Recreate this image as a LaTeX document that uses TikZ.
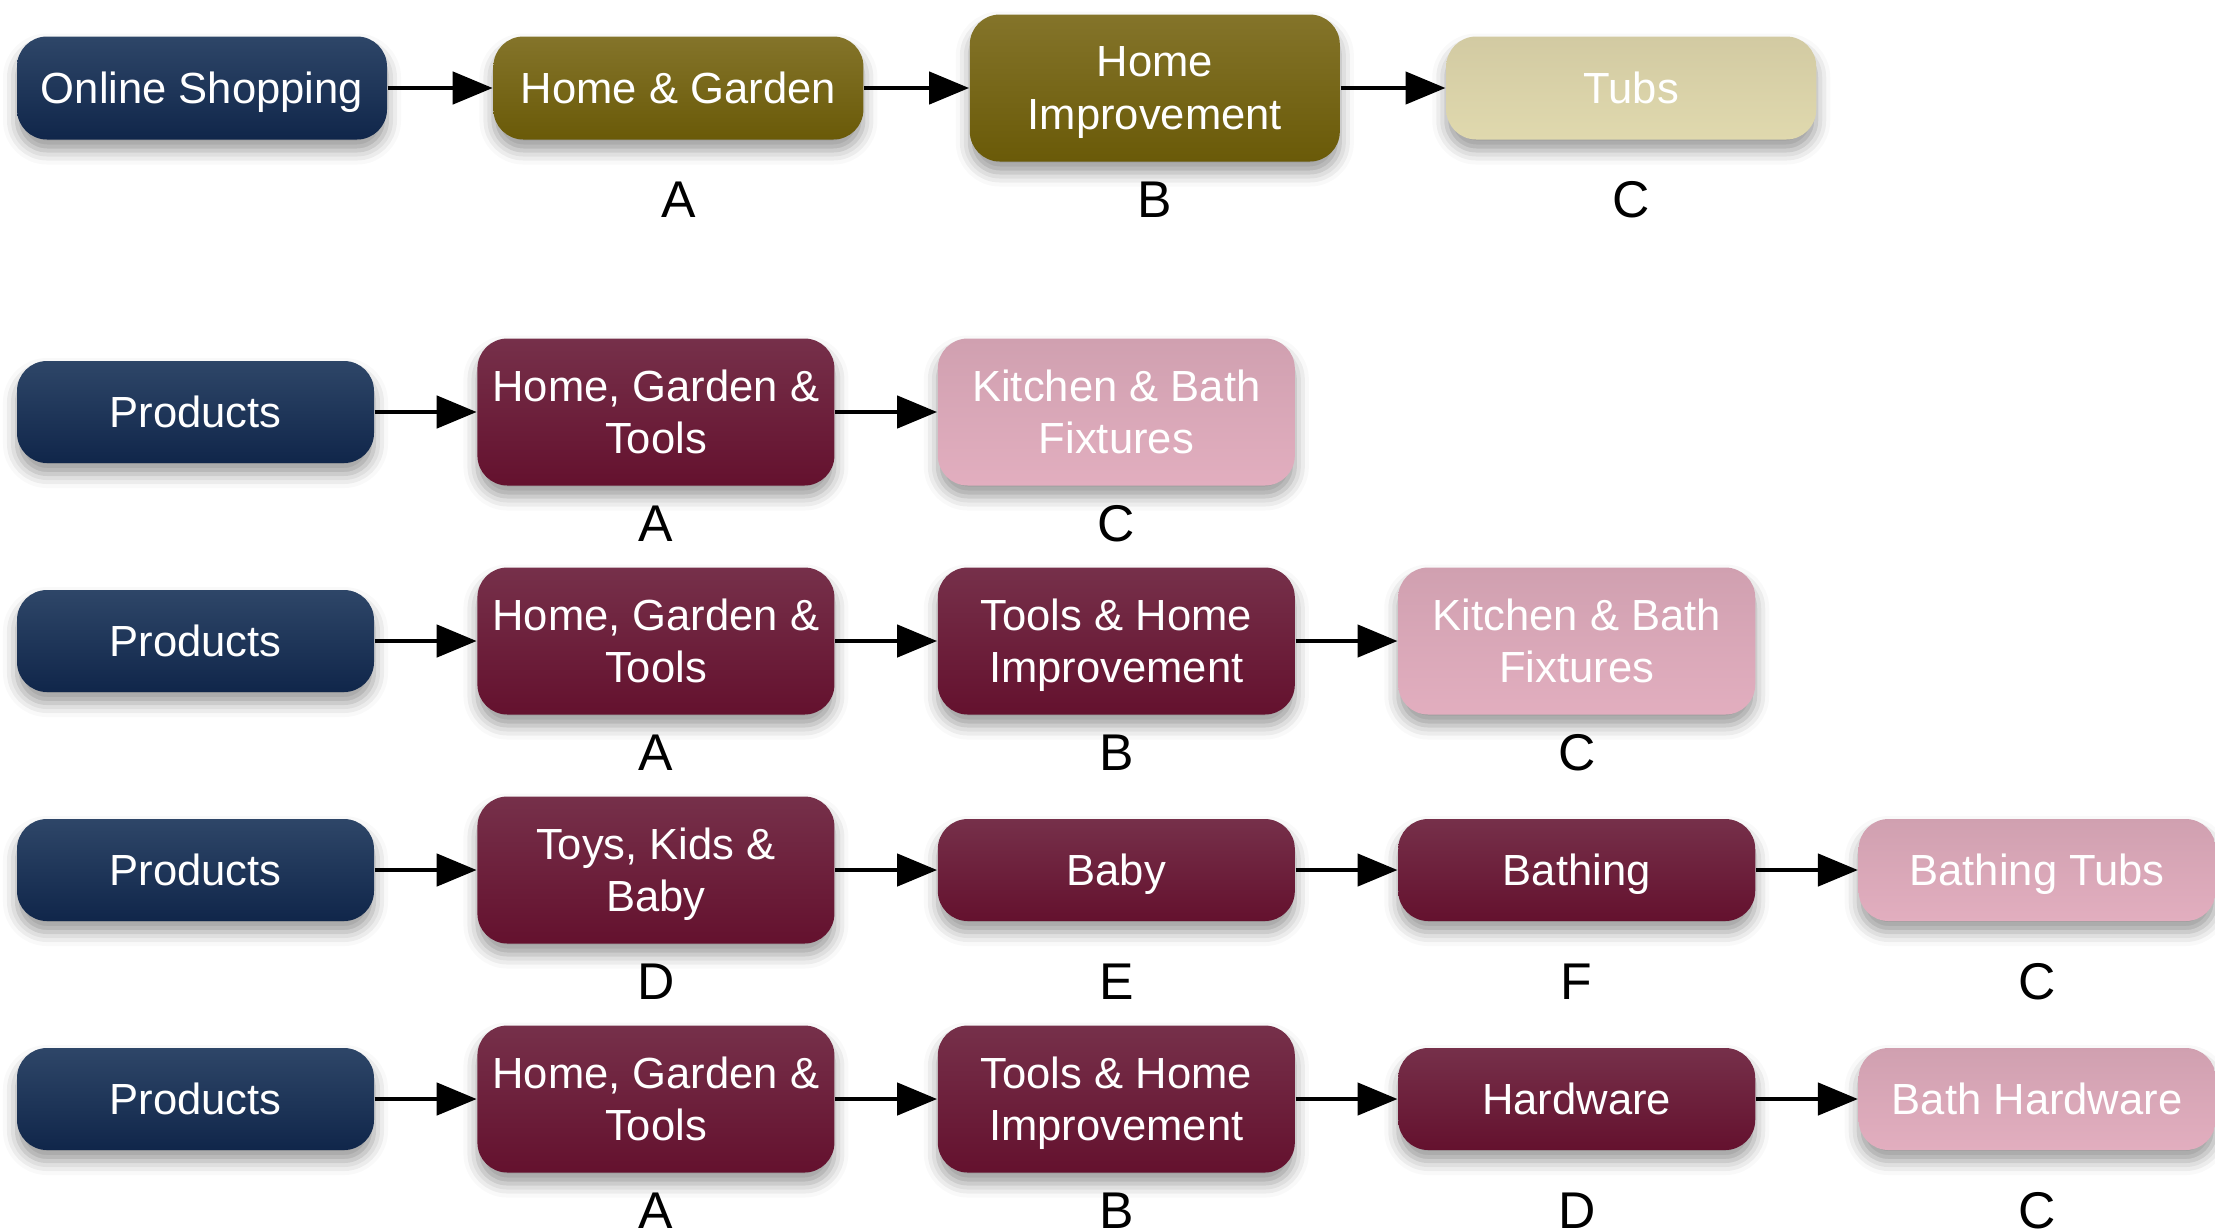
\documentclass[tikz,border=0pt]{standalone}
\usepackage{fontspec}
\setmainfont{Liberation Sans}
\usetikzlibrary{positioning,arrows.meta,shadows.blur}
\definecolor{navytop}{HTML}{2E4668}
\definecolor{navybot}{HTML}{10264A}
\definecolor{olivetop}{HTML}{84742A}
\definecolor{olivebot}{HTML}{6A5A08}
\definecolor{khakitop}{HTML}{D2CAA2}
\definecolor{khakibot}{HTML}{E0D9AE}
\definecolor{maroontop}{HTML}{76304A}
\definecolor{maroonbot}{HTML}{64112E}
\definecolor{pinktop}{HTML}{D0A0B0}
\definecolor{pinkbot}{HTML}{E2AEBF}
\tikzset{link/.style={-{Triangle[length=4mm,width=3.2mm]},line width=1.3pt}}

\begin{document}
\begin{tikzpicture}
		[
		block/.style={
		rectangle,
		rounded corners=3mm,
		minimum width=35.7mm,
		minimum height=10.2mm,
		inner sep=0pt,
		text depth=0pt,
		align=center,
		text=white,
		font=\fontsize{12.4}{14.8}\selectfont,
		blur shadow={shadow xshift=0mm,shadow yshift=-1.1mm,shadow blur radius=1.4mm,shadow opacity=40}},
		wide/.style={minimum width=37mm,minimum height=10.3mm},
		tall/.style={minimum height=14.7mm},
		root/.style={block,top color=navytop,bottom color=navybot},
		olive/.style={block,top color=olivetop,bottom color=olivebot},
		khaki/.style={block,top color=khakitop,bottom color=khakibot},
		maroon/.style={block,top color=maroontop,bottom color=maroonbot},
		leaf/.style={block,top color=pinktop,bottom color=pinkbot},
		tag/.style={font=\fontsize{14.7}{17}\selectfont}
		]
		\useasboundingbox (0,0) rectangle (22.15,-12.29);

		% online shopping
		\node[root,wide] at (2.02,-0.88) (online_shopping) {Online Shopping};
		\node[olive,wide,right=10.5mm of online_shopping] (home_garden) {Home \& Garden};
		\node[olive,wide,tall,right=10.5mm of home_garden] (home_improvement) {Home\\Improvement};
		\node[khaki,wide,right=10.5mm of home_improvement] (tubs) {Tubs};
		\node[tag] at ([yshift=-11.2mm]home_garden) (tag_home_garden) {A};
		\node[tag] at ([yshift=-11.2mm]home_improvement) (tag_home_improvement) {B};
		\node[tag] at ([yshift=-11.2mm]tubs) (tag_tubs) {C};
		\draw[link] (online_shopping) -- (home_garden);
		\draw[link] (home_garden) -- (home_improvement);
		\draw[link] (home_improvement) -- (tubs);

		% products 1
		\node[root] at (1.955,-4.12) (products_a) {Products};
		\node[maroon,tall,right=10.2mm of products_a] (hgt_a) {Home, Garden \&\\Tools};
		\node[leaf,tall,right=10.2mm of hgt_a] (kbf_a) {Kitchen \& Bath\\Fixtures};
		\node[tag] at ([yshift=-11.2mm]hgt_a) (tag_hgt_a) {A};
		\node[tag] at ([yshift=-11.2mm]kbf_a) (tag_kbf_a) {C};
		\draw[link] (products_a) -- (hgt_a);
		\draw[link] (hgt_a) -- (kbf_a);

		% products 2
		\node[root] at (1.955,-6.41) (products_b) {Products};
		\node[maroon,tall,right=10.2mm of products_b] (hgt_b) {Home, Garden \&\\Tools};
		\node[maroon,tall,right=10.2mm of hgt_b] (thi_b) {Tools \& Home\\Improvement};
		\node[leaf,tall,right=10.2mm of thi_b] (kbf_b) {Kitchen \& Bath\\Fixtures};
		\node[tag] at ([yshift=-11.2mm]hgt_b) (tag_hgt_b) {A};
		\node[tag] at ([yshift=-11.2mm]thi_b) (tag_thi_b) {B};
		\node[tag] at ([yshift=-11.2mm]kbf_b) (tag_kbf_b) {C};
		\draw[link] (products_b) -- (hgt_b);
		\draw[link] (hgt_b) -- (thi_b);
		\draw[link] (thi_b) -- (kbf_b);

		% products 3
		\node[root] at (1.955,-8.70) (products_c) {Products};
		\node[maroon,tall,right=10.2mm of products_c] (tkb_c) {Toys, Kids \&\\Baby};
		\node[maroon,right=10.2mm of tkb_c] (baby_c) {Baby};
		\node[maroon,right=10.2mm of baby_c] (bathing_c) {Bathing};
		\node[leaf,right=10.2mm of bathing_c] (bathing_tubs_c) {Bathing Tubs};
		\node[tag] at ([yshift=-11.2mm]tkb_c) (tag_tkb_c) {D};
		\node[tag] at ([yshift=-11.2mm]baby_c) (tag_baby_c) {E};
		\node[tag] at ([yshift=-11.2mm]bathing_c) (tag_bathing_c) {F};
		\node[tag] at ([yshift=-11.2mm]bathing_tubs_c) (tag_bathing_tubs_c) {C};
		\draw[link] (products_c) -- (tkb_c);
		\draw[link] (tkb_c) -- (baby_c);
		\draw[link] (baby_c) -- (bathing_c);
		\draw[link] (bathing_c) -- (bathing_tubs_c);

		% products 4
		\node[root] at (1.955,-10.99) (products_d) {Products};
		\node[maroon,tall,right=10.2mm of products_d] (hgt_d) {Home, Garden \&\\Tools};
		\node[maroon,tall,right=10.2mm of hgt_d] (thi_d) {Tools \& Home\\Improvement};
		\node[maroon,right=10.2mm of thi_d] (hardware_d) {Hardware};
		\node[leaf,right=10.2mm of hardware_d] (bath_hardware_d) {Bath Hardware};
		\node[tag] at ([yshift=-11.2mm]hgt_d) (tag_hgt_d) {A};
		\node[tag] at ([yshift=-11.2mm]thi_d) (tag_thi_d) {B};
		\node[tag] at ([yshift=-11.2mm]hardware_d) (tag_hardware_d) {D};
		\node[tag] at ([yshift=-11.2mm]bath_hardware_d) (tag_bath_hardware_d) {C};
		\draw[link] (products_d) -- (hgt_d);
		\draw[link] (hgt_d) -- (thi_d);
		\draw[link] (thi_d) -- (hardware_d);
		\draw[link] (hardware_d) -- (bath_hardware_d);
\end{tikzpicture}
\end{document}
